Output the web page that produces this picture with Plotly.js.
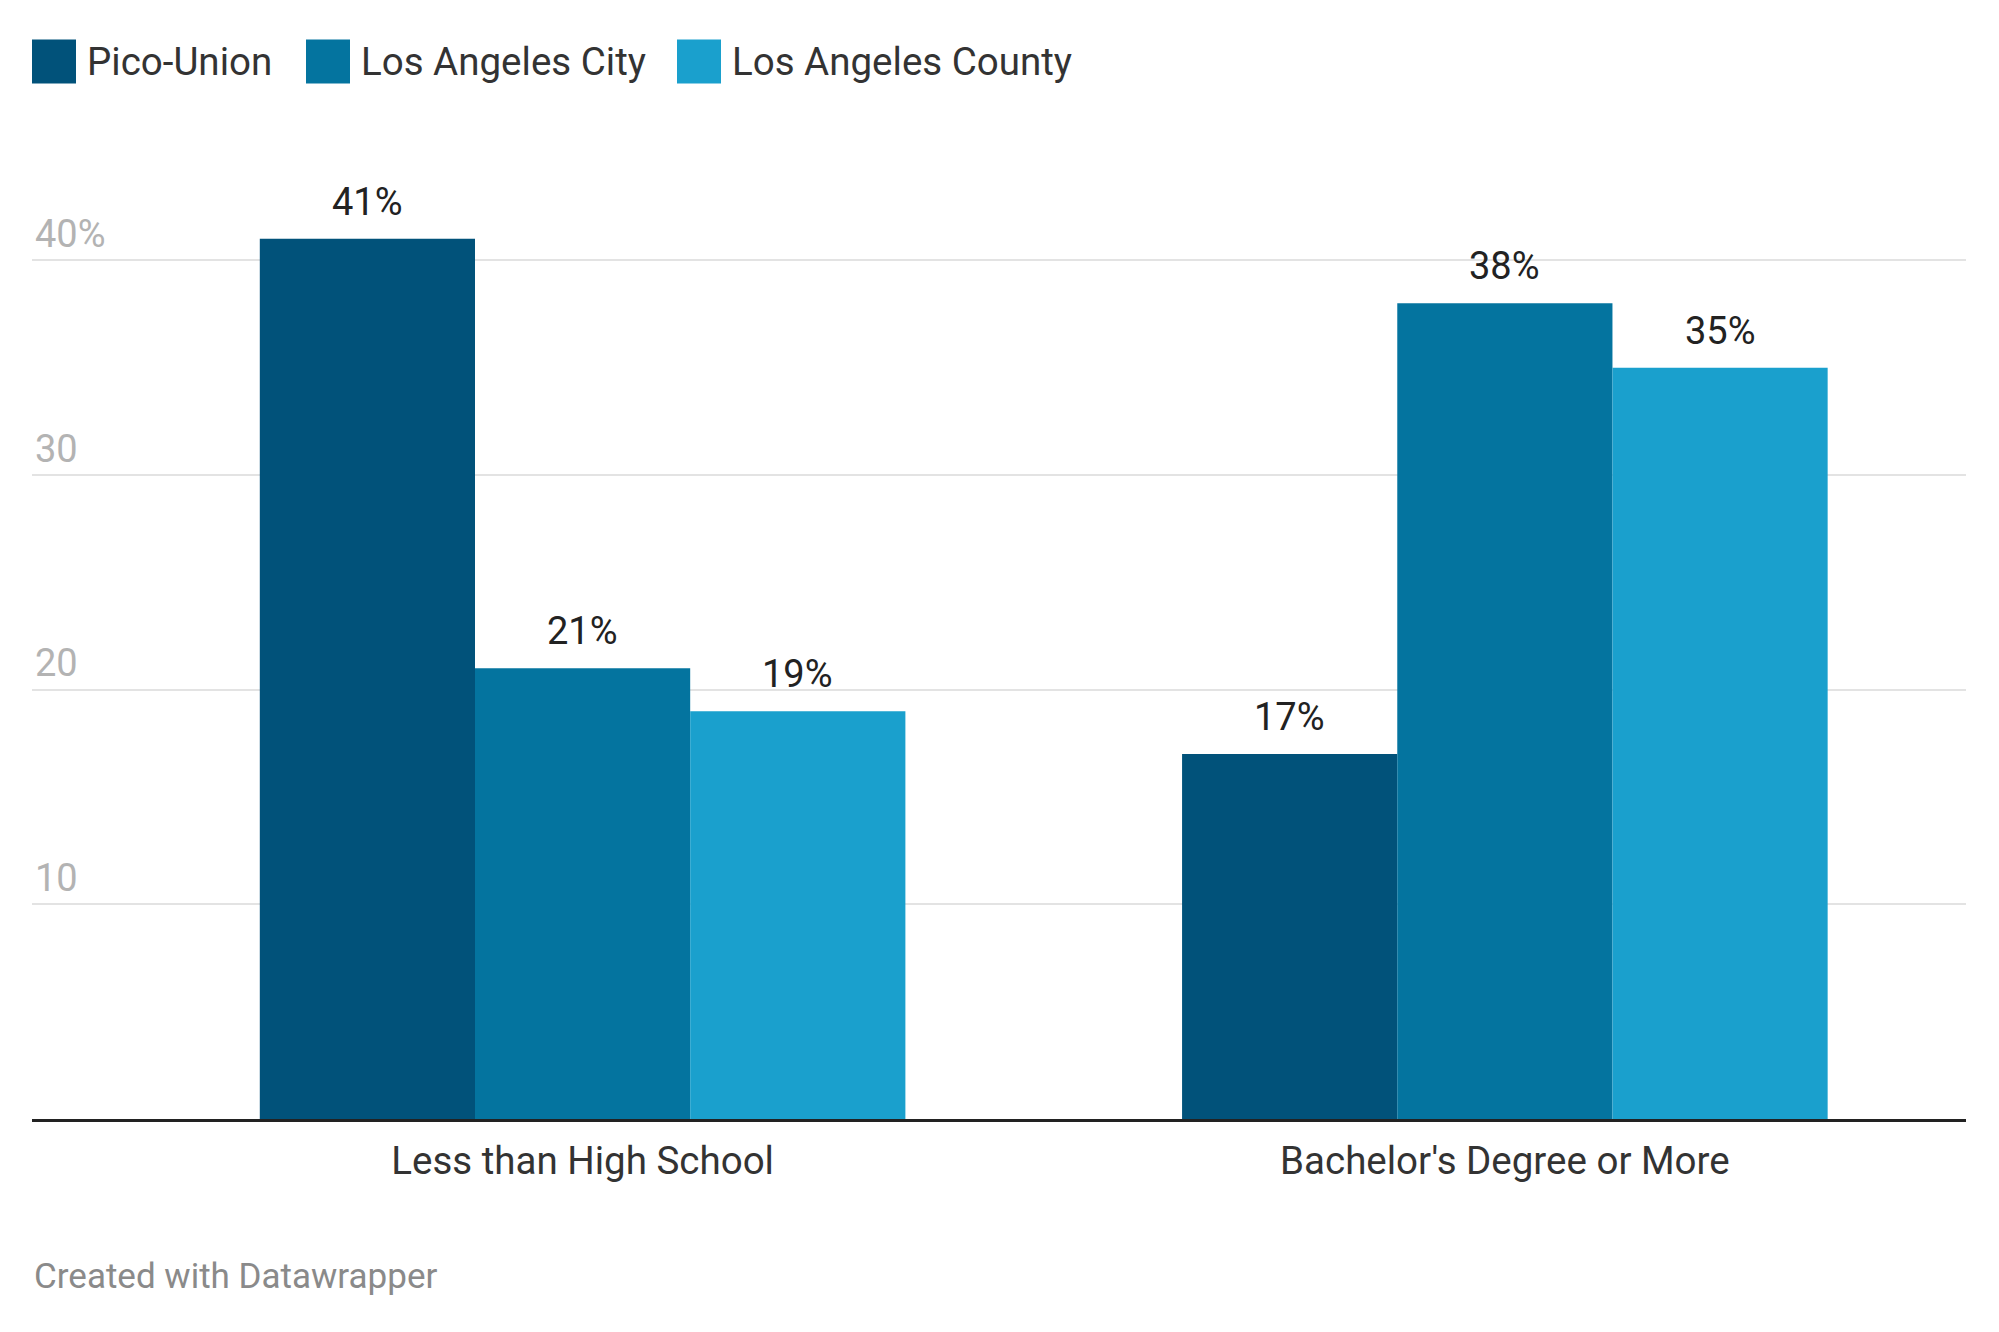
<!DOCTYPE html>
<html>
<head>
<meta charset="utf-8">
<script src="https://cdn.plot.ly/plotly-3.0.1.min.js"></script>
<style>
html,body{margin:0;padding:0;background:#fff;}
#chart{width:1999px;height:1332px;}
</style>
</head>
<body>
<div id="chart"></div>
<script>
// ---- data ----
const categories = ["Less than High School", "Bachelor's Degree or More"];
const seriesNames = ["Pico-Union", "Los Angeles City", "Los Angeles County"];
const picoUnion = [41, 17];
const laCity = [21, 38];
const laCounty = [19, 35];
const tickValues = [10, 20, 30, 40];
const tickLabels = ["10", "20", "30", "40%"];
const footerText = "Created with Datawrapper";

// ---- styles ----
const colors = ["#01527a", "#04749f", "#1aa0cd"];
const FONT = "Roboto, 'Open Sans', sans-serif";
const W = 1999, H = 1332;
const L = 32, R = 1966, TOP = 152.5, BOT = 1119.5;
const plotW = R - L, plotH = BOT - TOP;
const px = p => (p - L) / plotW;
const py = p => (BOT - p) / plotH;

const allSeries = [picoUnion, laCity, laCounty];
const traces = allSeries.map((vals, i) => ({
  type: 'bar',
  name: seriesNames[i],
  x: categories,
  y: vals,
  marker: {color: colors[i], line: {width: 0}},
  hoverinfo: 'skip'
}));

const bargap = 0.3;
const barW = (1 - bargap) / 3;
const annotations = [];
allSeries.forEach((vals, i) => {
  vals.forEach((v, j) => {
    annotations.push({
      xref: 'x', yref: 'y',
      x: j + (i - 1) * barW, y: v,
      text: v + '%',
      showarrow: false,
      yanchor: 'bottom',
      yshift: 13,
      font: {family: FONT, size: 38, color: '#222'}
    });
  });
});

// custom legend
const legendX = [32, 306, 677];
const shapes = [];
seriesNames.forEach((n, i) => {
  shapes.push({
    type: 'rect', xref: 'paper', yref: 'paper',
    x0: px(legendX[i]), x1: px(legendX[i] + 44),
    y0: py(83), y1: py(39),
    fillcolor: colors[i], line: {width: 0}
  });
  annotations.push({
    xref: 'paper', yref: 'paper',
    x: px(legendX[i] + 53), y: py(61),
    xanchor: 'left', yanchor: 'middle',
    text: n, showarrow: false,
    font: {family: FONT, size: 38.5, color: '#333'}
  });
});

annotations.push({
  xref: 'paper', yref: 'paper',
  x: px(32), y: py(1277),
  xanchor: 'left', yanchor: 'middle',
  text: footerText, showarrow: false,
  font: {family: FONT, size: 35, color: '#8a8a8a'}
});

const layout = {
  width: W, height: H,
  margin: {l: L, r: W - R, t: TOP, b: H - BOT, pad: 0},
  paper_bgcolor: '#fff', plot_bgcolor: '#fff',
  showlegend: false,
  barmode: 'group',
  bargap: bargap,
  bargroupgap: 0,
  xaxis: {
    type: 'category',
    range: [-0.597, 1.5],
    showgrid: false,
    zeroline: false,
    showline: true,
    linecolor: '#222',
    linewidth: 3,
    ticks: '',
    ticklabelstandoff: 6,
    tickfont: {family: FONT, size: 38.5, color: '#333'}
  },
  yaxis: {
    range: [0, 45],
    tickvals: tickValues,
    ticktext: tickLabels,
    ticklabelposition: 'inside top',
    showgrid: true,
    gridcolor: '#e3e3e3',
    gridwidth: 2,
    zeroline: false,
    showline: false,
    ticks: '',
    tickfont: {family: FONT, size: 38, color: '#b3b3b3'}
  },
  shapes: shapes,
  annotations: annotations
};

Plotly.newPlot('chart', traces, layout, {displayModeBar: false, staticPlot: true});
</script>
</body>
</html>
